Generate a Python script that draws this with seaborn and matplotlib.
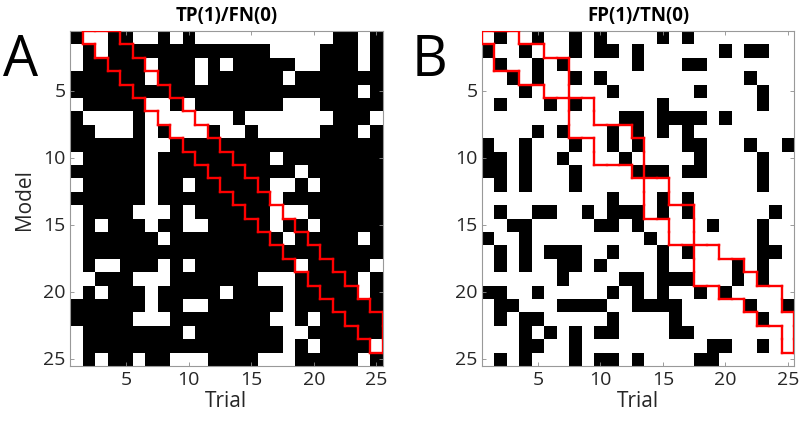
import numpy as np
import pandas as pd
import seaborn as sns
import matplotlib
matplotlib.use("Agg")
import matplotlib.pyplot as plt
from matplotlib.colors import ListedColormap
from matplotlib.collections import LineCollection

models = list(range(1, 26))
trials = list(range(1, 26))
tick_vals = [5, 10, 15, 20, 25]

# Panel A: trials with value 1 (white) for each model (row)
tp_ones = [
    [2, 3, 6, 7, 9, 11, 12, 13, 14, 15, 16, 17, 18, 19, 20, 21, 24],
    [1, 3, 17, 18, 19, 20, 24],
    [1, 7, 11, 13, 19, 20, 24],
    [7, 11, 18],
    [24],
    [1, 7, 8, 10, 18, 19, 20],
    [2, 3, 4, 5, 7, 8, 9, 10, 11, 12, 13, 15, 16, 17, 18, 19, 20, 21, 25],
    [3, 4, 5, 7, 9, 10, 11, 13, 14, 16, 17, 18, 19, 20, 24],
    [7, 8],
    [1, 7, 17],
    [7, 19],
    [1, 7, 10, 17, 18, 20],
    [7, 17],
    [1, 6, 7, 8, 10, 17, 18, 19],
    [1, 3, 7, 10, 11, 17, 20],
    [1, 8, 18, 24],
    [1],
    [1, 3, 4, 8, 10, 19, 25],
    [1, 2, 6, 7, 8, 16, 17, 18, 24],
    [1, 3, 7, 13, 18, 24],
    [7, 10, 11, 18],
    [6, 7, 8, 17, 18, 20],
    [1, 10, 18, 19],
    [1, 18, 20, 25],
    [1, 3, 6, 9, 10, 11, 16, 17, 18, 24],
]

# Panel B: trials with value 0 (black) for each model (row)
fp_zeros = [
    [2, 5, 8, 10, 15, 17],
    [1, 4, 8, 10, 11, 13, 20, 22, 23],
    [2, 5, 7, 13, 17, 18],
    [3, 5, 8, 10, 22],
    [4, 11, 18, 23],
    [2, 6, 8, 15, 23],
    [12, 13, 15, 16, 17, 18, 20],
    [5, 7, 11, 13, 15, 17],
    [1, 4, 8, 11, 13, 17, 18, 22, 25],
    [1, 2, 4, 7, 12, 18, 23],
    [1, 2, 4, 8, 13, 14, 15, 17, 18, 23],
    [2, 4, 8, 23],
    [11, 15, 17],
    [2, 5, 6, 9, 11, 12, 13, 15, 17, 24],
    [3, 4, 10, 11, 13, 19, 23],
    [1, 4, 14, 23],
    [2, 4, 6, 7, 8, 11, 15, 17, 23, 24],
    [2, 4, 7, 8, 10, 15, 21, 23],
    [7, 12, 13, 15, 16, 17, 21, 23],
    [1, 2, 5, 11, 13, 15, 18, 20],
    [2, 3, 7, 8, 9, 10, 13, 14, 15, 16, 22, 25],
    [2, 4, 5, 11, 16, 23],
    [4, 6, 8, 10, 11, 16, 17],
    [4, 5, 8, 19, 20, 23],
    [2, 4, 8, 10, 11, 13, 18, 19],
]

# Red outlined regions: first and last trial per model (0 = none)
a_band_first = [2, 3, 4, 5, 6, 7, 8, 9, 10, 11, 12, 13, 14, 15, 16, 17, 18, 19, 20, 21, 22, 23, 24, 25, 0]
a_band_last = [4, 5, 6, 7, 8, 9, 10, 11, 12, 13, 14, 15, 16, 17, 18, 19, 20, 21, 22, 23, 24, 25, 25, 25, 0]
b_band_first = [1, 2, 2, 4, 6, 8, 8, 8, 10, 10, 13, 14, 14, 14, 16, 16, 18, 18, 18, 20, 22, 23, 25, 25, 0]
b_band_last = [3, 5, 7, 7, 7, 9, 9, 12, 13, 13, 13, 15, 15, 17, 17, 17, 19, 21, 22, 24, 24, 25, 25, 25, 0]


def build(lists, fill, mark):
    m = np.full((len(models), len(trials)), fill, dtype=int)
    for i, cols in enumerate(lists):
        for c in cols:
            m[i, trials.index(c)] = mark
    return pd.DataFrame(m, index=models, columns=trials)


A = build(tp_ones, 0, 1)
B = build(fp_zeros, 1, 0)

plt.rcParams["font.family"] = ["Open Sans", "DejaVu Sans"]

fig = plt.figure(figsize=(8, 4.35), dpi=100)
axA = fig.add_axes([70 / 800, 68 / 435, 312.5 / 800, 335 / 435])
axB = fig.add_axes([481.7 / 800, 68 / 435, 312.5 / 800, 335 / 435])
cmap = ListedColormap(["black", "white"])


def band_segments(first, last):
    inband = set()
    for r, (f, l) in enumerate(zip(first, last)):
        if f == 0:
            continue
        for c in range(f, l + 1):
            inband.add((r, c - 1))
    segs = []
    for (r, c) in inband:
        if (r - 1, c) not in inband:
            segs.append([(c, r), (c + 1, r)])
        if (r + 1, c) not in inband:
            segs.append([(c, r + 1), (c + 1, r + 1)])
        if (r, c - 1) not in inband:
            segs.append([(c, r), (c, r + 1)])
        if (r, c + 1) not in inband:
            segs.append([(c + 1, r), (c + 1, r + 1)])
    return segs


for ax, data, title, first, last in [
    (axA, A, "TP(1)/FN(0)", a_band_first, a_band_last),
    (axB, B, "FP(1)/TN(0)", b_band_first, b_band_last),
]:
    sns.heatmap(data, cmap=cmap, vmin=0, vmax=1, cbar=False, ax=ax,
                square=False, linewidths=0)
    ax.add_collection(LineCollection(band_segments(first, last), colors="#ff0000",
                                     linewidths=1.7, capstyle="projecting", zorder=5))
    pos = [trials.index(t) + 0.5 for t in tick_vals]
    ax.set_xticks(pos)
    ax.set_xticklabels([str(t) for t in tick_vals], rotation=0, fontsize=14)
    ax.set_yticks(pos)
    ax.set_yticklabels([str(t) for t in tick_vals], rotation=0, fontsize=14)
    ax.tick_params(direction="in", length=3, width=0.6, color="0.55",
                   top=True, right=True, labelcolor="#262626", pad=3)
    for s in ax.spines.values():
        s.set_visible(True)
        s.set_color("0.6")
        s.set_linewidth(0.8)
    ax.set_xlabel("Trial", fontsize=15, color="#262626", labelpad=1)
    ax.set_ylabel("")
    ax.set_title(title, fontsize=13.5, fontweight="bold", pad=8, color="black")

axA.set_ylabel("Model", fontsize=15, color="#262626", labelpad=6)

fig.text(0.004, 0.925, "A", fontsize=40, va="top", ha="left", color="black")
fig.text(0.515, 0.925, "B", fontsize=40, va="top", ha="left", color="black")

fig.savefig("out.png", dpi=100, facecolor="white")
